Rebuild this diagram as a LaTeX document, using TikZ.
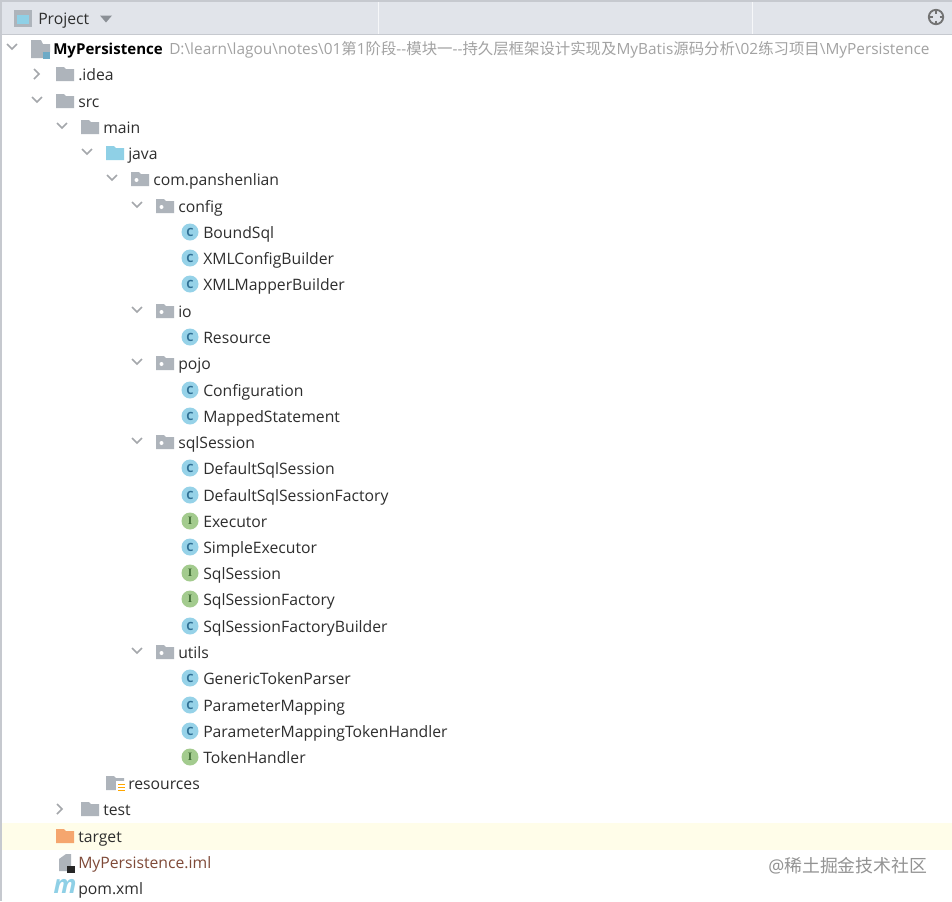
\documentclass[tikz,border=0pt]{standalone}
\usepackage{fontspec}
\setmainfont{Open Sans}
\newfontfamily\cjk{Noto Sans CJK SC}
\newfontfamily\iconfont{Liberation Serif}
\definecolor{headbg}{HTML}{E1E4EA}
\definecolor{headline}{HTML}{C6C9CF}
\definecolor{foldergrey}{HTML}{AEB4BB}
\definecolor{javablue}{HTML}{8FD0E6}
\definecolor{classblue}{HTML}{96D2E8}
\definecolor{classletter}{HTML}{2F6F94}
\definecolor{ifacegreen}{HTML}{A3CB8E}
\definecolor{ifaceletter}{HTML}{3E6B33}
\definecolor{chevgrey}{HTML}{A4A7AB}
\definecolor{rowtext}{HTML}{2E2E2E}
\definecolor{pathgrey}{HTML}{A2A2A2}
\definecolor{targetrow}{HTML}{FFFDE9}
\definecolor{targetorange}{HTML}{F5A66E}
\definecolor{imlbrown}{HTML}{7F4A38}
\tikzset{
  row/.style={anchor=mid west,inner sep=0pt,yshift=-2pt,font=\fontsize{11.8}{14}\selectfont,text=rowtext},
  chevdown/.pic={\draw[chevgrey,line width=1.3pt] (-5,-3) -- (0,2) -- (5,-3);},
  chevright/.pic={\draw[chevgrey,line width=1.3pt] (-3,-5) -- (2,0) -- (-3,5);},
  foldericon/.pic={\fill[foldergrey] (-9,7) -- (-9,-7) -- (-1,-7) -- (1,-5) -- (9,-5) -- (9,7) -- cycle;},
  javaicon/.pic={\fill[javablue] (-9,7) -- (-9,-7) -- (-1,-7) -- (1,-5) -- (9,-5) -- (9,7) -- cycle;},
  pkgicon/.pic={\fill[foldergrey] (-9,7) -- (-9,-7) -- (-1,-7) -- (1,-5) -- (9,-5) -- (9,7) -- cycle;
    \fill[white] (-3.5,1) circle (2);},
  classicon/.pic={\fill[classblue] (0,0) circle (8.5);
    \node[inner sep=0pt,text=classletter,font=\fontsize{8.5}{9}\selectfont\bfseries] {C};},
  ifaceicon/.pic={\fill[ifacegreen] (0,0) circle (8.5);
    \node[inner sep=0pt,text=ifaceletter,font=\fontsize{8.5}{9}\selectfont\iconfont\bfseries] {I};},
}
\begin{document}
\begin{tikzpicture}[x=0.75pt,y=-0.75pt]
  \useasboundingbox (0,0) rectangle (952,901);
  \fill[white] (0,0) rectangle (952,901);
  % header bar
  \fill[headbg] (0,0) rectangle (952,34);
  \fill[headline] (0,0) rectangle (952,1.5);
  \fill[headline] (0,33.5) rectangle (952,35);
  \fill[white!70!headbg] (377.5,1.5) rectangle (378.5,33.5);
  \fill[white!70!headbg] (752,1.5) rectangle (753,33.5);
  \fill[headline] (0,0) rectangle (2,901);
  \fill[targetrow] (2,823) rectangle (952,850);
  \fill[foldergrey] (14,10) rectangle (32,27);
  \fill[javablue] (17,15) rectangle (29,24);
  \node[row] (project) at (38,18) {Project};
  \fill[foldergrey!80!black] (100,15.5) -- (112,15.5) -- (106,22.5) -- cycle;
  \draw[gray!90!black,line width=1.4pt] (936,17) circle (7.2);
  \draw[gray!90!black,line width=1.6pt] (936,9) -- (936,13.5) (936,20.5) -- (936,25) (928,17) -- (932.5,17) (939.5,17) -- (944,17);

  % root
  \pic at (12,47) {chevdown};
  \fill[foldergrey] (31,58) -- (31,40) -- (41,40) -- (43,44) -- (50,44) -- (50,52) -- (43,52) -- (43,58) -- cycle;
  \fill[classblue!60!classletter] (43,52) rectangle (50,59);
  \node[row,font=\fontsize{11.3}{14}\selectfont\bfseries,text=black] (root) at (53,48) {MyPersistence};
  \node[row,font=\fontsize{11.55}{14}\selectfont,text=pathgrey] (rootpath) at (169,48) {D:\textbackslash learn\textbackslash lagou\textbackslash notes\textbackslash 01{\cjk 第}1{\cjk 阶段}-{}-{\cjk 模块一}-{}-{\cjk 持久层框架设计实现及}MyBatis{\cjk 源码分析}\textbackslash 02{\cjk 练习项目}\textbackslash MyPersistence};

  % folders
  \pic at (37,74) {chevright};
  \pic at (65,74) {foldericon};
  \node[row] (idea) at (78,74) {.idea};
  \pic at (37,100) {chevdown};
  \pic at (65,101) {foldericon};
  \node[row] (src) at (78,101) {src};
  \pic at (62,126) {chevdown};
  \pic at (90,127) {foldericon};
  \node[row] (main) at (103,127) {main};
  \pic at (87,152) {chevdown};
  \pic at (115,153) {javaicon};
  \node[row] (java) at (128,153) {java};
  \pic at (112,178) {chevdown};
  \pic at (140,179) {pkgicon};
  \node[row] (base) at (153,179) {com.panshenlian};
  \foreach \y/\lbl in {206/config,311/io,363/pojo,442/sqlSession,652/utils}{
    \pic at (137,\y-1) {chevdown};
    \pic at (165,\y) {pkgicon};
    \node[row] (\lbl) at (178,\y) {\lbl};
  }

  % classes
  \foreach \y/\lbl in {232/BoundSql,258/XMLConfigBuilder,284/XMLMapperBuilder,337/Resource,390/Configuration,416/MappedStatement,468/DefaultSqlSession,495/DefaultSqlSessionFactory,547/SimpleExecutor,626/SqlSessionFactoryBuilder,678/GenericTokenParser,705/ParameterMapping,731/ParameterMappingTokenHandler}{
    \pic at (190,\y) {classicon};
    \node[row] (\lbl) at (203,\y) {\lbl};
  }
  \foreach \y/\lbl in {521/Executor,573/SqlSession,599/SqlSessionFactory,757/TokenHandler}{
    \pic at (190,\y) {ifaceicon};
    \node[row] (\lbl) at (203,\y) {\lbl};
  }

  % bottom rows
  \pic at (115,783) {foldericon};
  \fill[white] (116,781) rectangle (126,792);
  \foreach \y in {783.5,786.5,789.5}{
    \fill[orange!70!yellow] (118,\y) rectangle (125,\y+1.6);
  }
  \node[row] (resources) at (128,783) {resources};
  \pic at (60,809) {chevright};
  \pic at (90,809) {foldericon};
  \node[row] (test) at (103,809) {test};
  \fill[targetorange] (56,843) -- (56,829) -- (64,829) -- (66,831) -- (74,831) -- (74,843) -- cycle;
  \node[row] (target) at (78,836) {target};
  \fill[foldergrey] (59,871) -- (59,859) -- (66,854) -- (71,854) -- (71,871) -- cycle;
  \fill[black!85] (67,866) rectangle (75,873);
  \node[row,text=imlbrown] (iml) at (78,862) {MyPersistence.iml};
  \node[inner sep=0pt,text=javablue,font=\fontsize{19}{20}\selectfont\bfseries\itshape] (pomicon) at (65,886) {m};
  \node[row] (pom) at (78,888) {pom.xml};
  \node[row,text=gray!85,font=\fontsize{13.4}{14}\selectfont] (mark) at (768,866) {@{\cjk 稀土掘金技术社区}};
\end{tikzpicture}
\end{document}
